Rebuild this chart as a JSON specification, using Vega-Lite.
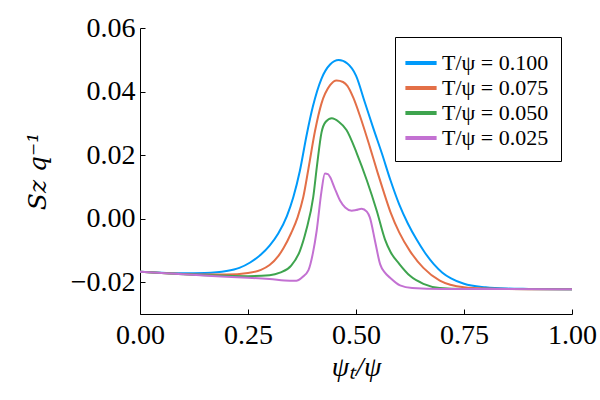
{
  "$schema": "https://vega.github.io/schema/vega-lite/v6.json",
  "autosize": {"type": "none"},
  "width": 432,
  "height": 286,
  "padding": {"left": 140, "top": 28, "right": 28, "bottom": 86},
  "background": "white",
  "config": {
    "view": {"stroke": null},
    "axis": {
      "grid": false,
      "domainColor": "black",
      "domainWidth": 1,
      "tickColor": "black",
      "tickSize": -5,
      "labelFont": "Liberation Serif",
      "labelFontSize": 28,
      "labelColor": "black",
      "titleFont": "Liberation Serif",
      "titleFontSize": 28,
      "titleFontStyle": "italic",
      "titleFontWeight": "normal",
      "titleColor": "black"
    }
  },
  "data": {
    "values": [
      {"s": "T/ψ = 0.100", "x": 0, "y": -0.0167},
      {"s": "T/ψ = 0.100", "x": 0.05, "y": -0.0170},
      {"s": "T/ψ = 0.100", "x": 0.10, "y": -0.0172},
      {"s": "T/ψ = 0.100", "x": 0.15, "y": -0.0171},
      {"s": "T/ψ = 0.100", "x": 0.20, "y": -0.0165},
      {"s": "T/ψ = 0.100", "x": 0.23, "y": -0.0155},
      {"s": "T/ψ = 0.100", "x": 0.255, "y": -0.0138},
      {"s": "T/ψ = 0.100", "x": 0.28, "y": -0.0113},
      {"s": "T/ψ = 0.100", "x": 0.30, "y": -0.0085},
      {"s": "T/ψ = 0.100", "x": 0.32, "y": -0.0047},
      {"s": "T/ψ = 0.100", "x": 0.34, "y": 0.0008},
      {"s": "T/ψ = 0.100", "x": 0.355, "y": 0.0068},
      {"s": "T/ψ = 0.100", "x": 0.37, "y": 0.0150},
      {"s": "T/ψ = 0.100", "x": 0.386, "y": 0.0265},
      {"s": "T/ψ = 0.100", "x": 0.40, "y": 0.0352},
      {"s": "T/ψ = 0.100", "x": 0.42, "y": 0.0440},
      {"s": "T/ψ = 0.100", "x": 0.44, "y": 0.0485},
      {"s": "T/ψ = 0.100", "x": 0.46, "y": 0.0499},
      {"s": "T/ψ = 0.100", "x": 0.48, "y": 0.0488},
      {"s": "T/ψ = 0.100", "x": 0.50, "y": 0.0450},
      {"s": "T/ψ = 0.100", "x": 0.52, "y": 0.0368},
      {"s": "T/ψ = 0.100", "x": 0.54, "y": 0.0285},
      {"s": "T/ψ = 0.100", "x": 0.56, "y": 0.0205},
      {"s": "T/ψ = 0.100", "x": 0.58, "y": 0.0120},
      {"s": "T/ψ = 0.100", "x": 0.60, "y": 0.0045},
      {"s": "T/ψ = 0.100", "x": 0.62, "y": -0.0015},
      {"s": "T/ψ = 0.100", "x": 0.64, "y": -0.0065},
      {"s": "T/ψ = 0.100", "x": 0.66, "y": -0.0108},
      {"s": "T/ψ = 0.100", "x": 0.68, "y": -0.0143},
      {"s": "T/ψ = 0.100", "x": 0.70, "y": -0.0170},
      {"s": "T/ψ = 0.100", "x": 0.72, "y": -0.0188},
      {"s": "T/ψ = 0.100", "x": 0.75, "y": -0.0205},
      {"s": "T/ψ = 0.100", "x": 0.80, "y": -0.0216},
      {"s": "T/ψ = 0.100", "x": 0.85, "y": -0.0220},
      {"s": "T/ψ = 0.100", "x": 0.90, "y": -0.0221},
      {"s": "T/ψ = 0.100", "x": 1.00, "y": -0.0222},

      {"s": "T/ψ = 0.075", "x": 0, "y": -0.0167},
      {"s": "T/ψ = 0.075", "x": 0.05, "y": -0.0171},
      {"s": "T/ψ = 0.075", "x": 0.10, "y": -0.0174},
      {"s": "T/ψ = 0.075", "x": 0.15, "y": -0.0176},
      {"s": "T/ψ = 0.075", "x": 0.20, "y": -0.0176},
      {"s": "T/ψ = 0.075", "x": 0.25, "y": -0.0171},
      {"s": "T/ψ = 0.075", "x": 0.28, "y": -0.0161},
      {"s": "T/ψ = 0.075", "x": 0.30, "y": -0.0146},
      {"s": "T/ψ = 0.075", "x": 0.32, "y": -0.0118},
      {"s": "T/ψ = 0.075", "x": 0.332, "y": -0.0093},
      {"s": "T/ψ = 0.075", "x": 0.35, "y": -0.0045},
      {"s": "T/ψ = 0.075", "x": 0.365, "y": 0.0005},
      {"s": "T/ψ = 0.075", "x": 0.378, "y": 0.0068},
      {"s": "T/ψ = 0.075", "x": 0.39, "y": 0.0158},
      {"s": "T/ψ = 0.075", "x": 0.405, "y": 0.0275},
      {"s": "T/ψ = 0.075", "x": 0.42, "y": 0.0362},
      {"s": "T/ψ = 0.075", "x": 0.44, "y": 0.0420},
      {"s": "T/ψ = 0.075", "x": 0.455, "y": 0.0435},
      {"s": "T/ψ = 0.075", "x": 0.47, "y": 0.0430},
      {"s": "T/ψ = 0.075", "x": 0.48, "y": 0.0418},
      {"s": "T/ψ = 0.075", "x": 0.494, "y": 0.0380},
      {"s": "T/ψ = 0.075", "x": 0.51, "y": 0.0320},
      {"s": "T/ψ = 0.075", "x": 0.532, "y": 0.0226},
      {"s": "T/ψ = 0.075", "x": 0.55, "y": 0.0145},
      {"s": "T/ψ = 0.075", "x": 0.563, "y": 0.0089},
      {"s": "T/ψ = 0.075", "x": 0.58, "y": 0.0020},
      {"s": "T/ψ = 0.075", "x": 0.60, "y": -0.0043},
      {"s": "T/ψ = 0.075", "x": 0.625, "y": -0.0102},
      {"s": "T/ψ = 0.075", "x": 0.656, "y": -0.0155},
      {"s": "T/ψ = 0.075", "x": 0.694, "y": -0.0195},
      {"s": "T/ψ = 0.075", "x": 0.75, "y": -0.0216},
      {"s": "T/ψ = 0.075", "x": 0.80, "y": -0.0220},
      {"s": "T/ψ = 0.075", "x": 0.90, "y": -0.0222},
      {"s": "T/ψ = 0.075", "x": 1.00, "y": -0.0222},

      {"s": "T/ψ = 0.050", "x": 0, "y": -0.0167},
      {"s": "T/ψ = 0.050", "x": 0.05, "y": -0.0171},
      {"s": "T/ψ = 0.050", "x": 0.10, "y": -0.0175},
      {"s": "T/ψ = 0.050", "x": 0.15, "y": -0.0178},
      {"s": "T/ψ = 0.050", "x": 0.20, "y": -0.0180},
      {"s": "T/ψ = 0.050", "x": 0.25, "y": -0.0181},
      {"s": "T/ψ = 0.050", "x": 0.30, "y": -0.0178},
      {"s": "T/ψ = 0.050", "x": 0.324, "y": -0.0170},
      {"s": "T/ψ = 0.050", "x": 0.35, "y": -0.0148},
      {"s": "T/ψ = 0.050", "x": 0.37, "y": -0.0102},
      {"s": "T/ψ = 0.050", "x": 0.385, "y": -0.0035},
      {"s": "T/ψ = 0.050", "x": 0.401, "y": 0.0068},
      {"s": "T/ψ = 0.050", "x": 0.41, "y": 0.0170},
      {"s": "T/ψ = 0.050", "x": 0.42, "y": 0.0270},
      {"s": "T/ψ = 0.050", "x": 0.43, "y": 0.0305},
      {"s": "T/ψ = 0.050", "x": 0.444, "y": 0.0316},
      {"s": "T/ψ = 0.050", "x": 0.46, "y": 0.0305},
      {"s": "T/ψ = 0.050", "x": 0.478, "y": 0.0279},
      {"s": "T/ψ = 0.050", "x": 0.502, "y": 0.0205},
      {"s": "T/ψ = 0.050", "x": 0.525, "y": 0.0121},
      {"s": "T/ψ = 0.050", "x": 0.548, "y": 0.0025},
      {"s": "T/ψ = 0.050", "x": 0.567, "y": -0.0065},
      {"s": "T/ψ = 0.050", "x": 0.58, "y": -0.0105},
      {"s": "T/ψ = 0.050", "x": 0.60, "y": -0.0142},
      {"s": "T/ψ = 0.050", "x": 0.625, "y": -0.0180},
      {"s": "T/ψ = 0.050", "x": 0.656, "y": -0.0205},
      {"s": "T/ψ = 0.050", "x": 0.694, "y": -0.0218},
      {"s": "T/ψ = 0.050", "x": 0.75, "y": -0.0221},
      {"s": "T/ψ = 0.050", "x": 1.00, "y": -0.0222},

      {"s": "T/ψ = 0.025", "x": 0, "y": -0.0167},
      {"s": "T/ψ = 0.025", "x": 0.05, "y": -0.0171},
      {"s": "T/ψ = 0.025", "x": 0.10, "y": -0.0175},
      {"s": "T/ψ = 0.025", "x": 0.15, "y": -0.0179},
      {"s": "T/ψ = 0.025", "x": 0.20, "y": -0.0183},
      {"s": "T/ψ = 0.025", "x": 0.25, "y": -0.0186},
      {"s": "T/ψ = 0.025", "x": 0.30, "y": -0.0190},
      {"s": "T/ψ = 0.025", "x": 0.347, "y": -0.0195},
      {"s": "T/ψ = 0.025", "x": 0.362, "y": -0.0195},
      {"s": "T/ψ = 0.025", "x": 0.375, "y": -0.0185},
      {"s": "T/ψ = 0.025", "x": 0.39, "y": -0.0162},
      {"s": "T/ψ = 0.025", "x": 0.40, "y": -0.0110},
      {"s": "T/ψ = 0.025", "x": 0.409, "y": -0.0038},
      {"s": "T/ψ = 0.025", "x": 0.42, "y": 0.0085},
      {"s": "T/ψ = 0.025", "x": 0.428, "y": 0.0142},
      {"s": "T/ψ = 0.025", "x": 0.435, "y": 0.0140},
      {"s": "T/ψ = 0.025", "x": 0.44, "y": 0.0131},
      {"s": "T/ψ = 0.025", "x": 0.45, "y": 0.0098},
      {"s": "T/ψ = 0.025", "x": 0.463, "y": 0.0057},
      {"s": "T/ψ = 0.025", "x": 0.475, "y": 0.0035},
      {"s": "T/ψ = 0.025", "x": 0.49, "y": 0.0025},
      {"s": "T/ψ = 0.025", "x": 0.50, "y": 0.0027},
      {"s": "T/ψ = 0.025", "x": 0.513, "y": 0.0031},
      {"s": "T/ψ = 0.025", "x": 0.525, "y": 0.0022},
      {"s": "T/ψ = 0.025", "x": 0.532, "y": 0.0004},
      {"s": "T/ψ = 0.025", "x": 0.544, "y": -0.0070},
      {"s": "T/ψ = 0.025", "x": 0.556, "y": -0.0144},
      {"s": "T/ψ = 0.025", "x": 0.567, "y": -0.0170},
      {"s": "T/ψ = 0.025", "x": 0.579, "y": -0.0186},
      {"s": "T/ψ = 0.025", "x": 0.602, "y": -0.0210},
      {"s": "T/ψ = 0.025", "x": 0.63, "y": -0.0218},
      {"s": "T/ψ = 0.025", "x": 0.70, "y": -0.0221},
      {"s": "T/ψ = 0.025", "x": 1.00, "y": -0.0222}
    ]
  },
  "mark": {"type": "line", "strokeWidth": 2, "interpolate": "monotone"},
  "encoding": {
    "x": {
      "field": "x",
      "type": "quantitative",
      "scale": {"domain": [0, 1], "nice": false, "zero": false},
      "axis": {"title": "ψₜ/ψ", "values": [0, 0.25, 0.5, 0.75, 1], "format": ".2f", "labelPadding": 12, "titlePadding": 4, "labelFlush": false}
    },
    "y": {
      "field": "y",
      "type": "quantitative",
      "scale": {"domain": [-0.03, 0.06], "nice": false, "zero": false},
      "axis": {"title": "Sz q⁻¹", "titleFont": "DejaVu Serif", "titleFontSize": 25, "values": [-0.02, 0, 0.02, 0.04, 0.06], "format": ".2f", "labelPadding": 10, "titlePadding": 20}
    },
    "color": {
      "field": "s",
      "type": "nominal",
      "scale": {
        "domain": ["T/ψ = 0.100", "T/ψ = 0.075", "T/ψ = 0.050", "T/ψ = 0.025"],
        "range": ["#009AFA", "#E36F47", "#3EA44E", "#C371D2"]
      },
      "legend": {
        "title": null,
        "orient": "none",
        "legendX": 255,
        "legendY": 9,
        "symbolType": "M-1.3,0H1.3",
        "symbolSize": 576,
        "symbolStrokeWidth": 4,
        "labelFont": "Liberation Serif",
        "labelFontSize": 22,
        "labelColor": "black",
        "labelOffset": 7,
        "rowPadding": 0,
        "strokeColor": "black",
        "fillColor": "white",
        "padding": 12
      }
    },
    "order": {"field": "x", "type": "quantitative"}
  }
}
